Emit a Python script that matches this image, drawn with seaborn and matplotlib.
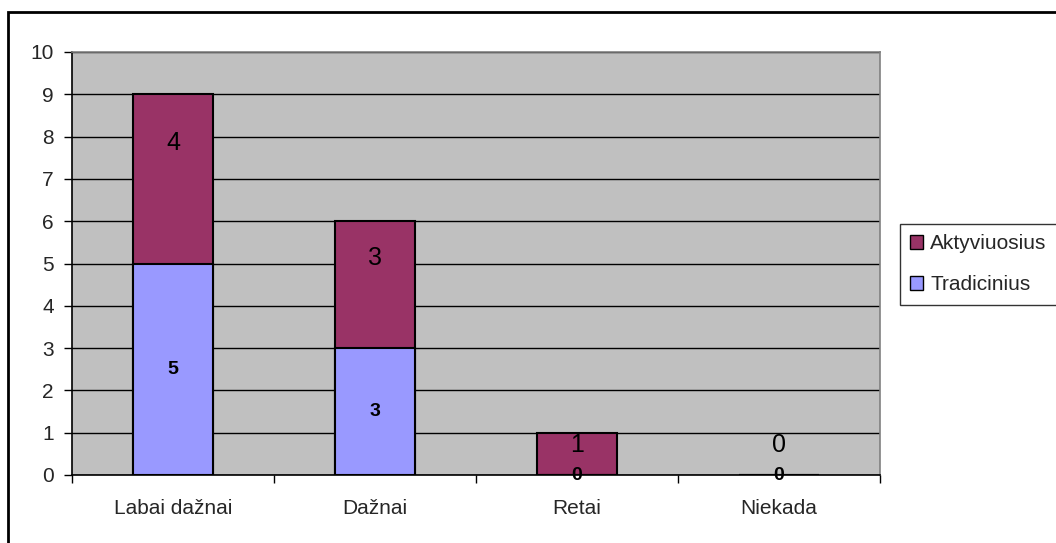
import matplotlib
matplotlib.use("Agg")
import matplotlib.pyplot as plt
from matplotlib.patches import Rectangle, Patch
import seaborn as sns
import pandas as pd
import numpy as np

categories = ["Labai dažnai", "Dažnai", "Retai", "Niekada"]
tradicinius = [5, 3, 0, 0]
aktyviuosius = [4, 3, 1, 0]
y_ticks = list(range(0, 11))

color_akt = "#993366"
color_trad = "#9999FF"
plot_bg = "#C0C0C0"

sns.set_style("white")
plt.rcParams["font.family"] = ["Liberation Sans", "DejaVu Sans"]

df = pd.DataFrame({
    "kategorija": categories,
    "Tradicinius": tradicinius,
    "Aktyviuosius": aktyviuosius,
})
df["viso"] = df["Tradicinius"] + df["Aktyviuosius"]

fig = plt.figure(figsize=(10.56, 5.43), dpi=100)
ax = fig.add_axes([72 / 1056, 1 - 475 / 543, (880 - 72) / 1056, (475 - 52) / 543])
ax.set_facecolor(plot_bg)

# stacked bars: full total in the top colour, lower segment drawn over it
sns.barplot(data=df, x="kategorija", y="viso", color=color_akt, width=0.4,
            edgecolor="black", linewidth=1.5, saturation=1, ax=ax, zorder=3)
sns.barplot(data=df, x="kategorija", y="Tradicinius", color=color_trad, width=0.4,
            edgecolor="black", linewidth=1.5, saturation=1, ax=ax, zorder=4)

ax.set_xlim(-0.5, len(categories) - 0.5)
ax.set_ylim(0, 10)
ax.set_yticks(y_ticks)
ax.set_yticklabels([str(t) for t in y_ticks], fontsize=15)
ax.yaxis.grid(True, color="black", linewidth=1.0)
ax.set_axisbelow(True)
ax.tick_params(axis="y", direction="out", length=6, width=1, color="black",
               left=True, pad=7)

# category labels centred, tick marks between categories
ax.set_xticks(np.arange(len(categories)))
ax.set_xticklabels(categories, fontsize=15)
ax.tick_params(axis="x", which="major", length=0, pad=17)
ax.set_xticks(np.arange(len(categories) + 1) - 0.5, minor=True)
ax.tick_params(axis="x", which="minor", direction="out", length=6, width=1,
               color="black", bottom=True)
ax.set_xlabel("")
ax.set_ylabel("")

for side in ["left", "bottom"]:
    ax.spines[side].set_color("black")
    ax.spines[side].set_linewidth(1.2)
for side in ["top", "right"]:
    ax.spines[side].set_color("#808080")
    ax.spines[side].set_linewidth(1.2)

# value labels
for i, v in enumerate(tradicinius):
    ax.text(i, v / 2, str(v), ha="center", va="center", fontsize=14,
            fontweight="bold", color="black", zorder=6)

akt_lift = [36, 27, 9, 30]
for i, v in enumerate(aktyviuosius):
    ax.annotate(str(v), xy=(i, tradicinius[i] + v / 2), xytext=(0, akt_lift[i]),
                textcoords="offset pixels", ha="center", va="center",
                fontsize=18, color="black", zorder=6)

handles = [Patch(facecolor=color_akt, edgecolor="black", label="Aktyviuosius"),
           Patch(facecolor=color_trad, edgecolor="black", label="Tradicinius")]
leg = fig.legend(handles=handles, loc="upper left",
                 bbox_to_anchor=(900 / 1056, 1 - 224 / 543),
                 fontsize=15, frameon=True, fancybox=False, edgecolor="black",
                 handlelength=0.6, handleheight=0.6, handletextpad=0.35,
                 borderaxespad=0, borderpad=0.5, labelspacing=1.05)
leg.get_frame().set_linewidth(1.0)

# outer chart border
fig.patches.append(Rectangle((8 / 1056, -0.1), 1.2, 1 - 12 / 543 + 0.1,
                             transform=fig.transFigure, fill=False,
                             edgecolor="black", linewidth=2, zorder=10))

fig.savefig("out.png", dpi=100)
